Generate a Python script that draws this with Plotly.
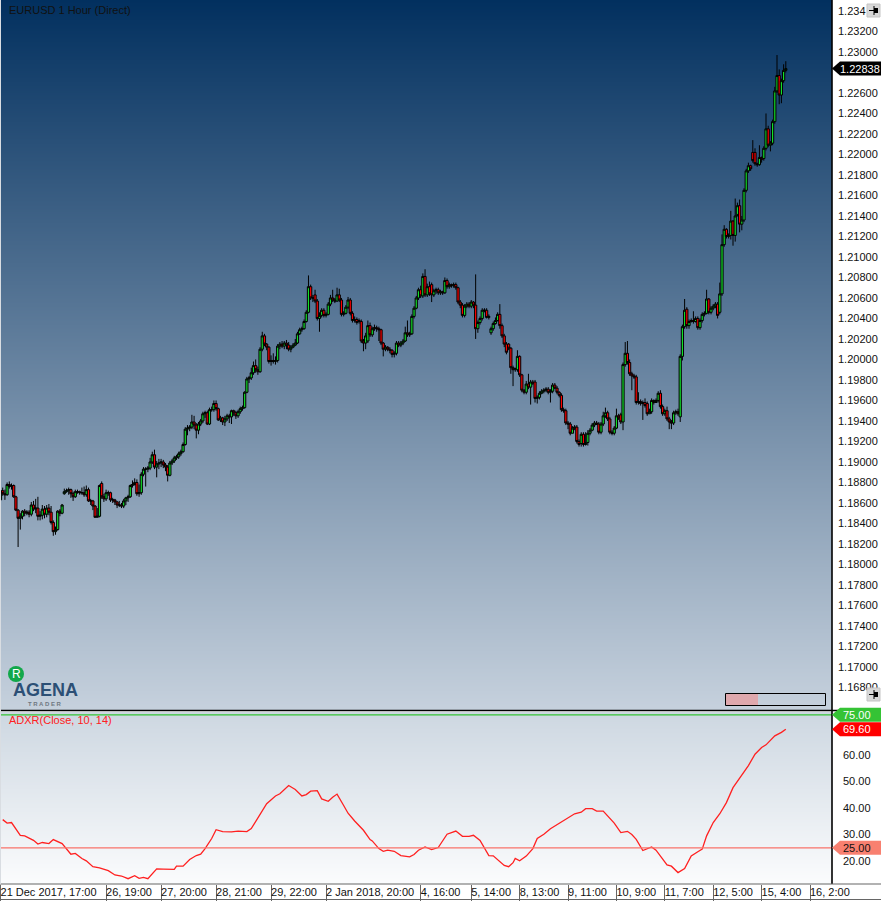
import plotly.graph_objects as go

# ---------- data ----------
opens = [
1.1863,1.1872,1.1869,1.1868,1.1878,1.1876,1.1877,1.1866,1.1853,1.1845,
1.1847,1.1852,1.1850,1.1851,1.1849,1.1858,1.1854,1.1855,1.1847,1.1848,
1.1854,1.1849,1.1855,1.1851,1.1841,1.1832,1.1834,1.1852,1.1850,1.1869,
1.1871,1.1872,1.1873,1.1869,1.1866,1.1871,1.1871,1.1870,1.1870,1.1868,
1.1873,1.1862,1.1862,1.1857,1.1846,1.1847,1.1879,1.1866,1.1864,1.1870,
1.1870,1.1863,1.1863,1.1861,1.1858,1.1858,1.1857,1.1862,1.1865,1.1866,
1.1877,1.1878,1.1880,1.1869,1.1870,1.1888,1.1893,1.1893,1.1894,1.1900,
1.1907,1.1895,1.1898,1.1899,1.1900,1.1897,1.1895,1.1887,1.1899,1.1901,
1.1904,1.1905,1.1908,1.1910,1.1917,1.1932,1.1933,1.1934,1.1939,1.1936,
1.1931,1.1937,1.1940,1.1947,1.1948,1.1937,1.1951,1.1951,1.1957,1.1952,
1.1941,1.1943,1.1939,1.1942,1.1945,1.1944,1.1950,1.1948,1.1945,1.1949,
1.1952,1.1953,1.1968,1.1981,1.1982,1.1987,1.1994,1.1990,1.1988,1.2010,
1.2023,1.2015,1.2012,1.1998,1.1999,1.1998,1.1999,1.2013,1.2015,1.2013,
1.2016,1.2014,1.2010,1.2012,1.2014,1.2016,1.2025,1.2029,1.2030,1.2037,
1.2046,1.2071,1.2060,1.2063,1.2057,1.2040,1.2043,1.2048,1.2043,1.2044,
1.2054,1.2060,1.2058,1.2057,1.2063,1.2058,1.2044,1.2045,1.2051,1.2058,
1.2045,1.2038,1.2039,1.2038,1.2037,1.2018,1.2016,1.2018,1.2033,1.2024,
1.2030,1.2031,1.2030,1.2029,1.2016,1.2010,1.2012,1.2010,1.2009,1.2005,
1.2006,1.2016,1.2014,1.2016,1.2018,1.2026,1.2024,1.2025,1.2042,1.2050,
1.2060,1.2068,1.2062,1.2081,1.2063,1.2071,1.2073,1.2063,1.2067,1.2068,
1.2065,1.2066,1.2065,1.2077,1.2071,1.2073,1.2072,1.2073,1.2070,1.2056,
1.2053,1.2043,1.2052,1.2054,1.2052,1.2056,1.2053,1.2030,1.2036,1.2040,
1.2048,1.2048,1.2041,1.2026,1.2030,1.2035,1.2038,1.2044,1.2033,1.2023,
1.2015,1.2015,1.2011,1.1992,1.1990,1.1990,1.2003,1.1985,1.1970,1.1968,
1.1976,1.1973,1.1978,1.1978,1.1962,1.1963,1.1967,1.1969,1.1970,1.1971,
1.1968,1.1969,1.1975,1.1972,1.1968,1.1965,1.1951,1.1950,1.1938,1.1937,
1.1928,1.1933,1.1934,1.1920,1.1918,1.1927,1.1917,1.1919,1.1928,1.1931,
1.1936,1.1938,1.1937,1.1929,1.1937,1.1945,1.1948,1.1942,1.1929,1.1928,
1.1933,1.1945,1.1946,1.1939,1.1995,1.2006,1.1997,1.1986,1.1984,1.1983,
1.1958,1.1959,1.1957,1.1958,1.1957,1.1947,1.1949,1.1960,1.1958,1.1960,
1.1967,1.1954,1.1947,1.1950,1.1942,1.1939,1.1938,1.1948,1.1949,1.1944,
1.2003,1.2032,1.2049,1.2033,1.2037,1.2038,1.2037,1.2040,1.2031,1.2038,
1.2044,1.2045,1.2059,1.2046,1.2050,1.2052,1.2054,1.2046,1.2064,1.2112,
1.2127,1.2120,1.2121,1.2135,1.2121,1.2140,1.2150,1.2132,1.2136,1.2165,
1.2184,1.2189,1.2202,1.2202,1.2191,1.2190,1.2197,1.2196,1.2206,1.2225,
1.2209,1.2211,1.2232,1.2262,1.2277,1.2258,1.2272,1.22820]
closes = [
1.1872,1.1869,1.1868,1.1878,1.1876,1.1877,1.1866,1.1853,1.1845,1.1847,
1.1852,1.1850,1.1851,1.1849,1.1858,1.1854,1.1855,1.1847,1.1848,1.1854,
1.1849,1.1855,1.1851,1.1841,1.1832,1.1834,1.1852,1.1850,1.1858,1.1871,
1.1872,1.1873,1.1869,1.1866,1.1871,1.1871,1.1870,1.1870,1.1868,1.1873,
1.1862,1.1862,1.1857,1.1846,1.1847,1.1877,1.1866,1.1864,1.1870,1.1870,
1.1863,1.1863,1.1861,1.1858,1.1858,1.1857,1.1862,1.1865,1.1866,1.1877,
1.1878,1.1880,1.1869,1.1870,1.1888,1.1893,1.1893,1.1894,1.1900,1.1907,
1.1895,1.1898,1.1899,1.1900,1.1897,1.1895,1.1887,1.1899,1.1901,1.1904,
1.1905,1.1908,1.1910,1.1917,1.1932,1.1933,1.1934,1.1939,1.1936,1.1931,
1.1937,1.1940,1.1947,1.1948,1.1937,1.1951,1.1951,1.1957,1.1952,1.1941,
1.1943,1.1939,1.1942,1.1945,1.1944,1.1950,1.1948,1.1945,1.1949,1.1952,
1.1953,1.1968,1.1981,1.1982,1.1987,1.1994,1.1990,1.1988,1.2010,1.2023,
1.2015,1.2012,1.1998,1.1999,1.1998,1.1999,1.2013,1.2015,1.2013,1.2016,
1.2014,1.2010,1.2012,1.2014,1.2016,1.2025,1.2029,1.2030,1.2037,1.2046,
1.2071,1.2060,1.2060,1.2057,1.2040,1.2043,1.2048,1.2043,1.2044,1.2054,
1.2060,1.2058,1.2057,1.2063,1.2058,1.2044,1.2045,1.2051,1.2058,1.2045,
1.2038,1.2039,1.2036,1.2037,1.2018,1.2016,1.2023,1.2033,1.2024,1.2030,
1.2031,1.2030,1.2029,1.2016,1.2010,1.2012,1.2010,1.2009,1.2005,1.2006,
1.2016,1.2014,1.2016,1.2018,1.2026,1.2024,1.2025,1.2042,1.2050,1.2060,
1.2068,1.2062,1.2081,1.2063,1.2071,1.2064,1.2063,1.2067,1.2068,1.2065,
1.2066,1.2065,1.2077,1.2071,1.2073,1.2072,1.2073,1.2070,1.2056,1.2053,
1.2043,1.2052,1.2054,1.2052,1.2056,1.2053,1.2030,1.2036,1.2040,1.2048,
1.2048,1.2041,1.2042,1.2030,1.2035,1.2038,1.2044,1.2033,1.2023,1.2015,
1.2007,1.2011,1.1992,1.1990,1.1991,1.2003,1.1985,1.1970,1.1968,1.1976,
1.1973,1.1978,1.1977,1.1962,1.1963,1.1967,1.1969,1.1970,1.1971,1.1968,
1.1969,1.1975,1.1972,1.1968,1.1965,1.1951,1.1950,1.1938,1.1937,1.1928,
1.1933,1.1934,1.1920,1.1917,1.1927,1.1917,1.1919,1.1928,1.1931,1.1936,
1.1938,1.1937,1.1929,1.1937,1.1945,1.1948,1.1942,1.1929,1.1928,1.1933,
1.1945,1.1943,1.1939,1.1995,1.2006,1.1997,1.1986,1.1984,1.1983,1.1958,
1.1959,1.1957,1.1958,1.1955,1.1947,1.1949,1.1960,1.1958,1.1960,1.1967,
1.1954,1.1947,1.1950,1.1942,1.1939,1.1938,1.1948,1.1949,1.1947,1.2003,
1.2032,1.2048,1.2033,1.2037,1.2038,1.2037,1.2040,1.2031,1.2038,1.2044,
1.2045,1.2059,1.2046,1.2050,1.2052,1.2054,1.2043,1.2064,1.2112,1.2127,
1.2120,1.2121,1.2135,1.2121,1.2140,1.2150,1.2132,1.2136,1.2165,1.2184,
1.2189,1.2186,1.2194,1.2191,1.2190,1.2197,1.2195,1.2206,1.2225,1.2209,
1.2211,1.2232,1.2262,1.2277,1.2258,1.2272,1.2282,1.22838]
highs = [
1.1877,1.1875,1.1873,1.1880,1.1881,1.1879,1.1878,1.1867,1.1854,1.1850,
1.1853,1.1854,1.1853,1.1853,1.1861,1.1862,1.1864,1.1866,1.1852,1.1858,
1.1857,1.1858,1.1859,1.1857,1.1843,1.1837,1.1853,1.1854,1.1859,1.1874,
1.1874,1.1875,1.1874,1.1871,1.1873,1.1873,1.1872,1.1875,1.1876,1.1877,
1.1875,1.1864,1.1863,1.1858,1.1855,1.1878,1.1881,1.1869,1.1873,1.1872,
1.1871,1.1865,1.1864,1.1862,1.1862,1.1860,1.1864,1.1866,1.1868,1.1878,
1.1882,1.1884,1.1883,1.1878,1.1890,1.1895,1.1895,1.1896,1.1904,1.1910,
1.1912,1.1901,1.1903,1.1903,1.1902,1.1899,1.1897,1.1901,1.1903,1.1906,
1.1907,1.1910,1.1912,1.1919,1.1934,1.1936,1.1936,1.1946,1.1945,1.1938,
1.1939,1.1942,1.1949,1.1950,1.1950,1.1953,1.1954,1.1960,1.1960,1.1953,
1.1945,1.1944,1.1945,1.1947,1.1947,1.1951,1.1951,1.1950,1.1951,1.1954,
1.1955,1.1969,1.1983,1.1984,1.1992,1.1998,1.2000,1.1993,1.2012,1.2027,
1.2025,1.2016,1.2013,1.2004,1.2006,1.2003,1.2015,1.2017,1.2018,1.2018,
1.2019,1.2017,1.2014,1.2016,1.2020,1.2027,1.2031,1.2032,1.2039,1.2048,
1.2082,1.2073,1.2063,1.2068,1.2059,1.2046,1.2050,1.2050,1.2046,1.2056,
1.2063,1.2068,1.2060,1.2070,1.2069,1.2060,1.2047,1.2053,1.2061,1.2060,
1.2047,1.2042,1.2041,1.2040,1.2039,1.2020,1.2026,1.2038,1.2036,1.2032,
1.2034,1.2033,1.2032,1.2030,1.2017,1.2014,1.2013,1.2012,1.2010,1.2008,
1.2018,1.2018,1.2018,1.2020,1.2032,1.2038,1.2027,1.2044,1.2052,1.2062,
1.2070,1.2072,1.2084,1.2088,1.2074,1.2076,1.2075,1.2069,1.2070,1.2070,
1.2068,1.2067,1.2080,1.2079,1.2075,1.2074,1.2075,1.2075,1.2071,1.2058,
1.2055,1.2054,1.2056,1.2056,1.2058,1.2057,1.2083,1.2038,1.2042,1.2050,
1.2050,1.2050,1.2044,1.2032,1.2037,1.2041,1.2046,1.2054,1.2035,1.2025,
1.2017,1.2016,1.2012,1.1994,1.1992,1.2009,1.2004,1.1986,1.1971,1.1979,
1.1986,1.1980,1.1980,1.1980,1.1965,1.1969,1.1971,1.1972,1.1973,1.1973,
1.1971,1.1977,1.1977,1.1974,1.1969,1.1967,1.1953,1.1952,1.1940,1.1939,
1.1935,1.1936,1.1936,1.1922,1.1929,1.1929,1.1929,1.1931,1.1933,1.1938,
1.1940,1.1940,1.1939,1.1939,1.1949,1.1953,1.1950,1.1944,1.1931,1.1935,
1.1952,1.1947,1.1948,1.1997,1.2017,1.2018,1.2000,1.1988,1.1986,1.1985,
1.1968,1.1961,1.1960,1.1962,1.1959,1.1952,1.1962,1.1961,1.1962,1.1969,
1.1970,1.1956,1.1952,1.1954,1.1944,1.1941,1.1950,1.1951,1.1952,1.2005,
1.2034,1.2059,1.2051,1.2039,1.2040,1.2047,1.2042,1.2042,1.2040,1.2046,
1.2047,1.2068,1.2060,1.2052,1.2054,1.2056,1.2056,1.2075,1.2122,1.2131,
1.2128,1.2123,1.2145,1.2136,1.2157,1.2153,1.2156,1.2140,1.2167,1.2186,
1.2192,1.2190,1.2214,1.2206,1.2192,1.2209,1.2198,1.2208,1.2240,1.2228,
1.2213,1.2234,1.2266,1.2297,1.2283,1.2274,1.2288,1.2291]
lows = [
1.1862,1.1867,1.1863,1.1867,1.1874,1.1873,1.1865,1.1852,1.1817,1.1834,
1.1844,1.1847,1.1848,1.1846,1.1847,1.1852,1.1850,1.1843,1.1843,1.1844,
1.1845,1.1846,1.1848,1.1839,1.1828,1.1829,1.1833,1.1847,1.1849,1.1868,
1.1870,1.1868,1.1865,1.1862,1.1865,1.1869,1.1868,1.1868,1.1866,1.1866,
1.1861,1.1858,1.1853,1.1846,1.1846,1.1846,1.1864,1.1861,1.1862,1.1867,
1.1861,1.1860,1.1858,1.1855,1.1856,1.1855,1.1855,1.1858,1.1861,1.1865,
1.1875,1.1877,1.1867,1.1866,1.1868,1.1886,1.1876,1.1890,1.1892,1.1898,
1.1893,1.1885,1.1893,1.1895,1.1894,1.1891,1.1881,1.1886,1.1897,1.1899,
1.1902,1.1903,1.1906,1.1909,1.1916,1.1926,1.1930,1.1932,1.1932,1.1923,
1.1927,1.1935,1.1938,1.1943,1.1936,1.1936,1.1949,1.1949,1.1950,1.1940,
1.1939,1.1936,1.1935,1.1940,1.1938,1.1937,1.1945,1.1942,1.1943,1.1947,
1.1950,1.1952,1.1967,1.1977,1.1980,1.1985,1.1987,1.1985,1.1987,1.2008,
1.2013,1.2009,1.1996,1.1994,1.1996,1.1995,1.1997,1.2010,1.2011,1.2010,
1.2010,1.2008,1.2007,1.2011,1.2013,1.2015,1.2024,1.2027,1.2029,1.2036,
1.2045,1.2058,1.2056,1.2055,1.2038,1.2027,1.2041,1.2041,1.2041,1.2043,
1.2052,1.2056,1.2055,1.2056,1.2056,1.2042,1.2042,1.2044,1.2049,1.2043,
1.2036,1.2036,1.2034,1.2035,1.2016,1.2008,1.2010,1.2016,1.2022,1.2022,
1.2028,1.2027,1.2018,1.2014,1.2003,1.2008,1.2008,1.2006,1.2002,1.2002,
1.2004,1.2012,1.2012,1.2014,1.2017,1.2022,1.2022,1.2024,1.2040,1.2049,
1.2058,1.2060,1.2060,1.2061,1.2061,1.2062,1.2056,1.2061,1.2064,1.2063,
1.2063,1.2063,1.2064,1.2069,1.2069,1.2070,1.2070,1.2068,1.2054,1.2050,
1.2041,1.2041,1.2050,1.2050,1.2050,1.2050,1.2020,1.2026,1.2034,1.2038,
1.2046,1.2040,1.2039,1.2024,1.2028,1.2034,1.2037,1.2030,1.2021,1.2012,
1.2005,1.2009,1.1986,1.1974,1.1988,1.1988,1.1983,1.1968,1.1966,1.1966,
1.1971,1.1956,1.1975,1.1958,1.1957,1.1961,1.1966,1.1967,1.1968,1.1966,
1.1958,1.1967,1.1971,1.1966,1.1963,1.1949,1.1948,1.1936,1.1932,1.1926,
1.1928,1.1931,1.1918,1.1915,1.1915,1.1915,1.1916,1.1916,1.1926,1.1930,
1.1934,1.1936,1.1927,1.1927,1.1935,1.1943,1.1940,1.1927,1.1926,1.1926,
1.1932,1.1941,1.1937,1.1931,1.1993,1.1995,1.1984,1.1970,1.1981,1.1956,
1.1956,1.1955,1.1941,1.1953,1.1945,1.1947,1.1947,1.1956,1.1958,1.1958,
1.1952,1.1945,1.1945,1.1940,1.1932,1.1932,1.1936,1.1946,1.1945,1.1939,
1.1999,1.2030,1.2030,1.2030,1.2036,1.2035,1.2036,1.2029,1.2029,1.2036,
1.2042,1.2044,1.2044,1.2044,1.2048,1.2050,1.2040,1.2044,1.2062,1.2110,
1.2118,1.2118,1.2117,1.2111,1.2115,1.2142,1.2124,1.2126,1.2134,1.2163,
1.2182,1.2184,1.2192,1.2189,1.2188,1.2189,1.2192,1.2194,1.2204,1.2207,
1.2203,1.2209,1.2230,1.2260,1.2249,1.2250,1.2270,1.2280]

adx_bar = [
1,3,5,8,9,11,15,17,19,22,24,28,30,32,34,37,39,42,45,49,52,55,58,61,63,65,67,71,74,79,
80,83,86,89,91,93,96,98,101,105,108,112,114,117,121,125,127,131,134,137,139,141,144,146,
149,151,153,156,158,161,164,165,168,169,172,174,176,179,182,186,188,190,193,196,199,201,
203,207,210,213,215,218,221,222,224,227,229,231,233,234,236,239,242,244,247,250,254,258,
261,264,266,269,271,274,277,279,282,285,287,289,292,296,298,301,303,305,308,311,314,317,
319,321,324,327,330,333,336,340,343,346,348,352,355,357]
adx_val = [
35.6,34.3,34.5,31.0,29.7,29.5,27.8,26.4,27.0,26.6,28.1,26.6,24.7,22.6,22.9,21.0,20.1,17.9,17.5,16.4,
14.8,14.4,13.4,14.5,13.5,13.9,13.4,17.1,17.0,16.9,18.1,18.1,20.6,22.1,22.6,24.7,28.5,31.8,31.1,31.0,
31.3,31.1,32.2,36.3,41.6,44.5,45.3,48.4,46.9,44.5,45.0,46.3,46.5,43.4,42.5,44.0,45.2,40.9,38.0,35.1,
32.4,31.6,28.1,27.6,24.7,23.7,24.1,23.7,22.1,21.6,22.5,24.1,25.3,24.3,25.1,27.6,30.1,31.3,29.3,29.3,
29.7,27.8,23.5,22.1,22.0,19.7,18.4,17.9,19.4,21.0,20.1,21.9,24.7,28.5,30.1,32.2,34.3,36.3,37.8,38.4,
39.7,39.7,38.8,38.8,36.2,34.3,30.7,31.2,30.0,28.2,24.0,25.3,24.1,20.6,18.6,18.1,15.7,17.2,21.9,23.5,
24.5,29.5,34.5,37.8,42.0,47.6,51.0,55.9,60.2,62.7,63.7,67.1,68.4,69.6]

x_tick_bars = [0,48,73,98,123,148,191,214,236,258,280,302,324,346,368]
x_tick_text = ["21 Dec 2017, 17:00","26, 19:00","27, 20:00","28, 21:00","29, 22:00",
               "2 Jan 2018, 20:00","4, 16:00","5, 14:00","8, 13:00","9, 11:00",
               "10, 9:00","11, 7:00","12, 5:00","15, 4:00","16, 2:00"]
price_ticks = [1.232,1.23,1.226,1.224,1.222,1.22,1.218,1.216,1.214,1.212,1.21,1.208,1.206,
               1.204,1.202,1.2,1.198,1.196,1.194,1.192,1.19,1.188,1.186,1.184,1.182,1.18,1.178,
               1.176,1.174,1.172,1.17,1.168]
adx_ticks = [60,50,40,30,20]

last_price = 1.22838
adx_last = 69.60
level_high = 75.00
level_low = 25.00

# ---------- layout constants ----------
W, H = 881, 901
XR = (-0.23, 378.0)
YR1 = (1.16580, 1.23507)
YR2 = (11.4, 76.05)
px = lambda x: x / W
py = lambda y: 1 - y / H
FONT = "Liberation Sans"
D1 = [py(710), py(0)]
D2 = [py(884), py(712)]
SIDE = 832

def frac1(v):
    return D1[0] + (v - YR1[0]) / (YR1[1] - YR1[0]) * (D1[1] - D1[0])
def frac2(v):
    return D2[0] + (v - YR2[0]) / (YR2[1] - YR2[0]) * (D2[1] - D2[0])

shapes, annos = [], []

def label(x, y, text, size=11, color="#111111", xanchor="left"):
    annos.append(dict(xref="paper", yref="paper", x=x, y=y, text=text, showarrow=False, xanchor=xanchor,
                      yanchor="middle", borderpad=0, font=dict(family=FONT, size=size, color=color)))

def tag(yf, fill, text, tcolor, xc):
    hh = 7 / H
    x0, x1, x2 = px(SIDE), px(SIDE + 8), 1.0
    shapes.append(dict(type="path", xref="paper", yref="paper", line_width=0, fillcolor=fill,
                       path=f"M{x0},{yf} L{x1},{yf+hh} L{x2},{yf+hh} L{x2},{yf-hh} L{x1},{yf-hh} Z"))
    label(px(xc), yf, text, 11, tcolor, "center")

def pin(y):
    shapes.append(dict(type="rect", xref="paper", yref="paper", x0=px(867), x1=px(880), y0=py(y + 13), y1=py(y),
                       fillcolor="#d8d8d8", line=dict(color="#c4c4c4", width=1)))
    shapes.append(dict(type="line", xref="paper", yref="paper", x0=px(869), x1=px(876), y0=py(y + 6.5), y1=py(y + 6.5),
                       line=dict(color="black", width=1)))
    shapes.append(dict(type="rect", xref="paper", yref="paper", x0=px(874), x1=px(878), y0=py(y + 9), y1=py(y + 4),
                       fillcolor="black", line_width=0))
    shapes.append(dict(type="line", xref="paper", yref="paper", x0=px(874), x1=px(874), y0=py(y + 11), y1=py(y + 2),
                       line=dict(color="black", width=1)))

fig = go.Figure()

# gradient backgrounds: two smooth heatmaps, which draw below the candles
fig.add_trace(go.Heatmap(x=list(XR), y=list(YR1), z=[[0, 0], [1, 1]], zmin=0, zmax=1, zsmooth="best",
                         colorscale=[[0, "#c6d1dd"], [1, "#02305f"]], showscale=False, hoverinfo="skip",
                         xaxis="x", yaxis="y"))
fig.add_trace(go.Heatmap(x=list(XR), y=list(YR2), z=[[0, 0], [1, 1]], zmin=0, zmax=1, zsmooth="best",
                         colorscale=[[0, "#fbfcfd"], [1, "#cdd7e1"]], showscale=False, hoverinfo="skip",
                         xaxis="x2", yaxis="y2"))

fig.add_trace(go.Candlestick(x=list(range(len(closes))), open=opens, high=highs, low=lows, close=closes,
                             increasing=dict(fillcolor="#12e02a", line=dict(color="black", width=1)),
                             decreasing=dict(fillcolor="#ff0000", line=dict(color="black", width=1)),
                             whiskerwidth=0, showlegend=False, xaxis="x", yaxis="y"))

fig.add_trace(go.Scatter(x=adx_bar, y=adx_val, mode="lines", line=dict(color="#ff2020", width=1.3),
                         showlegend=False, xaxis="x2", yaxis="y2"))

# levels
for v, c in ((level_high, "#35c335"), (level_low, "#f9736a")):
    shapes.append(dict(type="line", xref="paper", yref="y2", x0=0, x1=px(SIDE), y0=v, y1=v,
                       line=dict(color=c, width=1.2)))

# frames
shapes.append(dict(type="line", xref="paper", yref="paper", x0=px(SIDE), x1=px(SIDE), y0=py(884), y1=1,
                   line=dict(color="black", width=1.6)))
shapes.append(dict(type="line", xref="paper", yref="paper", x0=0, x1=1, y0=py(710.5), y1=py(710.5),
                   line=dict(color="black", width=1.6)))
shapes.append(dict(type="line", xref="paper", yref="paper", x0=0, x1=1, y0=py(884), y1=py(884),
                   line=dict(color="#666666", width=1.2)))
shapes.append(dict(type="line", xref="paper", yref="paper", x0=0, x1=1, y0=py(899.5), y1=py(899.5),
                   line=dict(color="#666666", width=1.2)))
shapes.append(dict(type="line", xref="paper", yref="paper", x0=px(0.5), x1=px(0.5), y0=py(884), y1=1,
                   line=dict(color="#d9dde2", width=1)))

# progress box
shapes.append(dict(type="rect", xref="paper", yref="paper", x0=px(726), x1=px(758), y0=py(705), y1=py(694),
                   fillcolor="#dfa8ad", line_width=0))
shapes.append(dict(type="rect", xref="paper", yref="paper", x0=px(725.5), x1=px(825.5), y0=py(705.5), y1=py(693.5),
                   line=dict(color="black", width=1)))

# logo
shapes.append(dict(type="circle", xref="paper", yref="paper", x0=px(8), x1=px(24), y0=py(682), y1=py(666),
                   fillcolor="#12a84a", line_width=0))
label(px(16), py(674), "R", 12, "white", "center")
label(px(45), py(690), "<b>AGENA</b>", 18, "#2c4f75", "center")
label(px(45), py(704), "<b>T R A D E R</b>", 6, "#6f7880", "center")

# titles
label(px(8), py(10), "EURUSD 1 Hour (Direct)", 11, "#111111")
label(px(8), py(720), "ADXR(Close, 10, 14)", 11, "#ff2020")
label(px(837), py(10.5), "1.234", 11, "#111111")

pin(4)
pin(688)

tag(frac1(last_price), "#000000", f"{last_price:.5f}", "white", 860)
tag(frac2(level_high), "#35c335", f"{level_high:.2f}", "white", 857)
tag(frac2(adx_last), "#ff0000", f"{adx_last:.2f}", "white", 857)
tag(frac2(level_low), "#f88070", f"{level_low:.2f}", "#111111", 857)

axis_font = dict(family=FONT, size=11, color="#111111")
fig.update_layout(
    width=W, height=H, autosize=False,
    margin=dict(l=0, r=0, t=0, b=0, autoexpand=False),
    paper_bgcolor="white", plot_bgcolor="white",
    boxgap=0, boxgroupgap=0, showlegend=False, hovermode=False,
    xaxis=dict(domain=[0, px(SIDE)], range=XR, rangeslider=dict(visible=False), showgrid=False,
               zeroline=False, showticklabels=False, ticks="", anchor="y"),
    yaxis=dict(domain=D1, range=YR1, side="right", anchor="x", showgrid=False, zeroline=False,
               tickmode="array", tickvals=price_ticks, ticktext=[f"{v:.5f}" for v in price_ticks],
               ticks="", tickfont=axis_font, ticklabelstandoff=5),
    xaxis2=dict(domain=[0, px(SIDE)], range=XR, showgrid=False, zeroline=False, anchor="y2",
                tickmode="array", tickvals=x_tick_bars, ticktext=x_tick_text, ticks="", ticklen=0,
                ticklabelposition="outside right", tickfont=axis_font, tickangle=0, ticklabeloverflow="allow",
                minor=dict(tickmode="array", tickvals=x_tick_bars, ticks="outside", ticklen=16,
                           tickcolor="#666666", tickwidth=1, showgrid=False)),
    yaxis2=dict(domain=D2, range=YR2, side="right", anchor="x2", showgrid=False, zeroline=False,
                tickmode="array", tickvals=adx_ticks, ticktext=[f"{v:.2f}" for v in adx_ticks],
                ticks="", tickfont=axis_font, ticklabelstandoff=10),
    shapes=shapes, annotations=annos,
)
fig.write_html("out.html", config=dict(displayModeBar=False),
               post_script="document.body.style.margin='0';document.documentElement.style.overflow='hidden';")
